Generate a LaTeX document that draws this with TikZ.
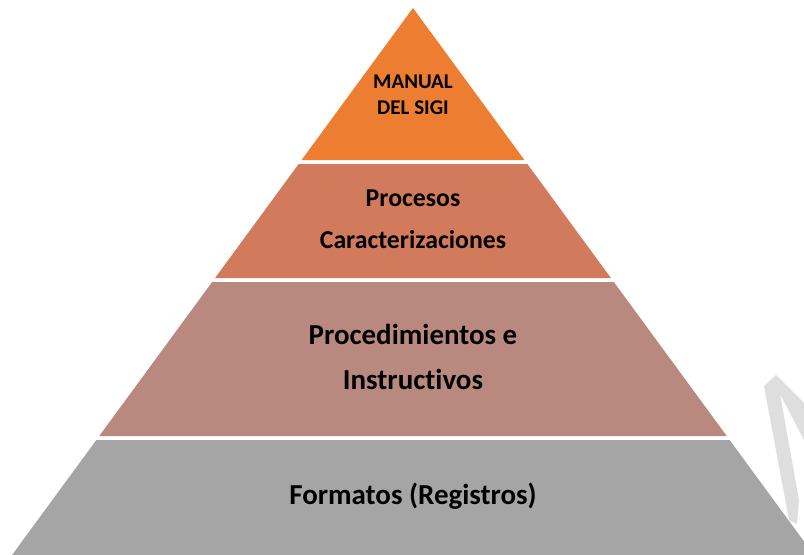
\documentclass[tikz,border=0pt]{standalone}
\usepackage{fontspec}
\setmainfont{Carlito}[Ligatures=NoCommon]
\usetikzlibrary{calc}
\definecolor{capaA}{HTML}{ED7D31}
\definecolor{capaB}{HTML}{D27A5C}
\definecolor{capaC}{HTML}{B9897F}
\definecolor{capaD}{HTML}{A5A5A5}
\definecolor{marca}{HTML}{DEDEDE}

\begin{document}
\begin{tikzpicture}[x=0.03cm,y=-0.03cm,
    nivel/.style={align=center, text=black, inner sep=0pt},
    chico/.style={font=\bfseries\fontsize{17.9}{22}\selectfont},
    medio/.style={font=\bfseries\fontsize{22}{35.7}\selectfont},
    grande/.style={font=\bfseries\fontsize{24.7}{39}\selectfont}]
  \useasboundingbox (0,0) rectangle (804,555);
  \clip (0,0) rectangle (804,555);
  % watermark piece
  \fill[marca] (764,386) -- (776,375) -- (804,403) -- (804,440) -- (780,394)
    -- (799,500) -- (797,524) -- (789,520) -- cycle;
  % layers of the pyramid
  \foreach \ya/\yb/\col in {8/160/capaA, 164/278/capaB, 282/436/capaC, 440/570/capaD}
    \fill[\col] ({413-(\ya-8)*0.733},\ya) -- ({413+(\ya-8)*0.733},\ya)
      -- ({413+(\yb-8)*0.733},\yb) -- ({413-(\yb-8)*0.733},\yb) -- cycle;
  \node[nivel,chico] (manual) at (413,95) {MANUAL\\DEL SIGI};
  \node[nivel,medio] (procesos) at (413,219) {Procesos\\Caracterizaciones};
  \node[nivel,grande] (procedimientos) at (413,357) {Procedimientos e\\Instructivos};
  \node[nivel,grande] (formatos) at (413,496) {Formatos (Registros)};
\end{tikzpicture}
\end{document}
